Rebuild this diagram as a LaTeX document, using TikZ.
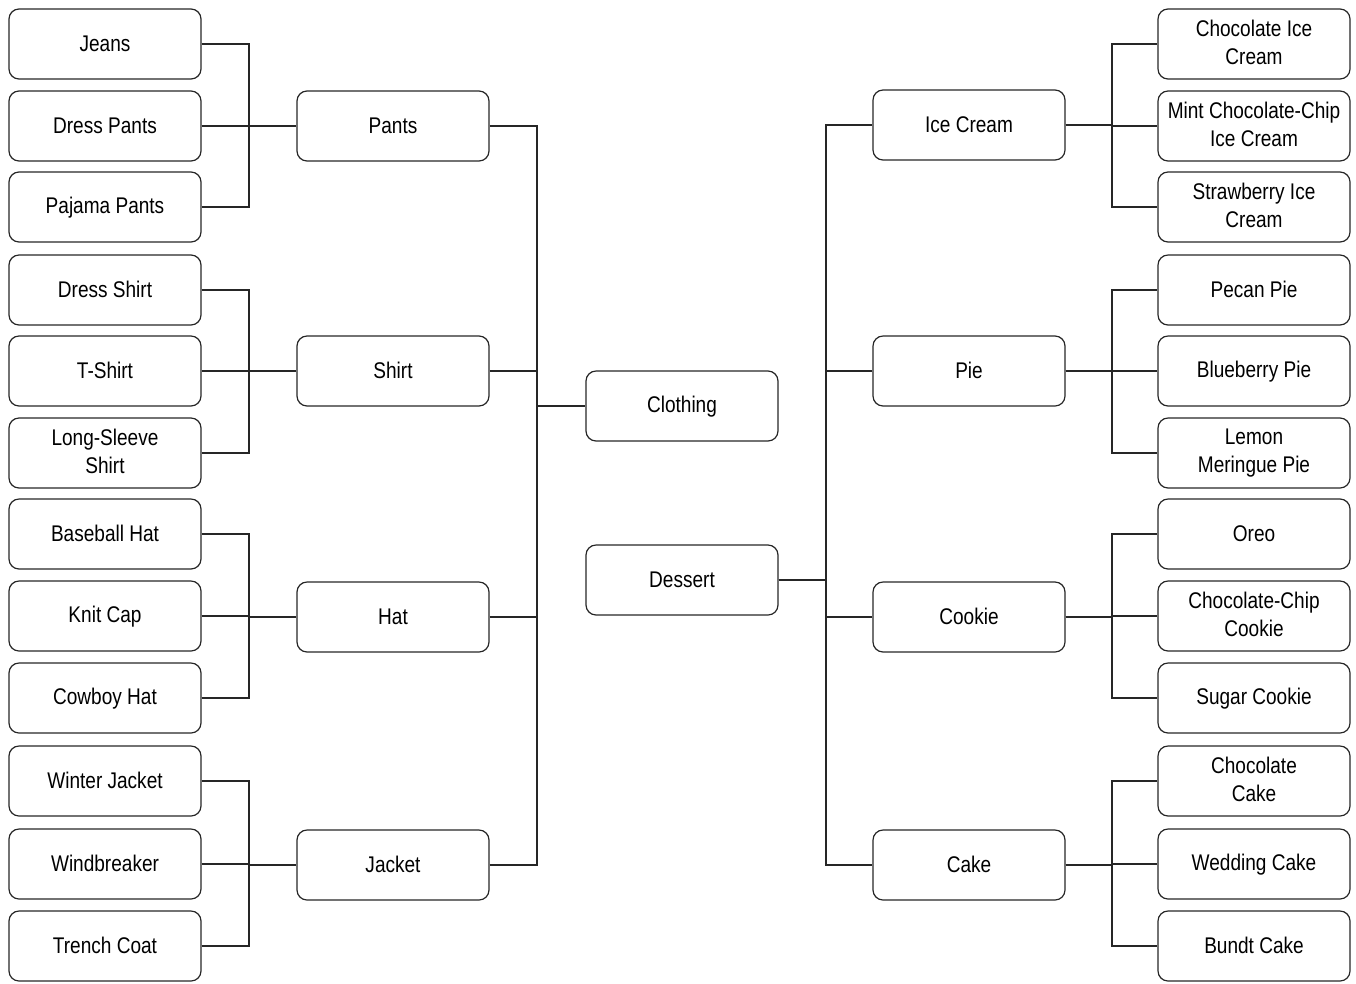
\documentclass[tikz,border=0pt]{standalone}
\usepackage{fontspec}
\setmainfont{Liberation Sans}[FakeStretch=0.84]
\newcommand\bxstrut{\rule[-2.4pt]{0pt}{15.5pt}}
\begin{document}
\begin{tikzpicture}[x=0.75pt,y=-0.75pt,
  box/.style={draw=black!85,line width=0.9pt,rounded corners=7.5pt,minimum width=144pt,minimum height=52.5pt,inner sep=0pt,align=center,font=\fontsize{17}{21.5}\selectfont,text=black,
    execute at begin node=\bxstrut, execute at end node=\bxstrut},
  wire/.style={draw=black!85,line width=0.9pt}]
\useasboundingbox (0,0) rectangle (1356,983);
% left leaves
\node[box] (jeans) at (105,44) {Jeans};
\node[box] (dpants) at (105,126) {Dress Pants};
\node[box] (ppants) at (105,207) {Pajama Pants};
\node[box] (dshirt) at (105,290) {Dress Shirt};
\node[box] (tshirt) at (105,371) {T-Shirt};
\node[box] (lshirt) at (105,453) {Long-Sleeve\\Shirt};
\node[box] (bhat) at (105,534) {Baseball Hat};
\node[box] (kcap) at (105,616) {Knit Cap};
\node[box] (chat) at (105,698) {Cowboy Hat};
\node[box] (wjacket) at (105,781) {Winter Jacket};
\node[box] (wbreaker) at (105,864) {Windbreaker};
\node[box] (tcoat) at (105,946) {Trench Coat};
% left middle
\node[box] (pants) at (393,126) {Pants};
\node[box] (shirt) at (393,371) {Shirt};
\node[box] (hat) at (393,617) {Hat};
\node[box] (jacket) at (393,865) {Jacket};
% center
\node[box] (clothing) at (682,406) {Clothing};
\node[box] (dessert) at (682,580) {Dessert};
% right middle
\node[box] (icecream) at (969,125) {Ice Cream};
\node[box] (pie) at (969,371) {Pie};
\node[box] (cookie) at (969,617) {Cookie};
\node[box] (cake) at (969,865) {Cake};
% right leaves
\node[box] (cic) at (1254,44) {Chocolate Ice\\Cream};
\node[box] (mcc) at (1254,126) {Mint Chocolate-Chip\\Ice Cream};
\node[box] (sic) at (1254,207) {Strawberry Ice\\Cream};
\node[box] (pecan) at (1254,290) {Pecan Pie};
\node[box] (blue) at (1254,371) {Blueberry Pie};
\node[box] (lemon) at (1254,453) {Lemon\\Meringue Pie};
\node[box] (oreo) at (1254,534) {Oreo};
\node[box] (ccc) at (1254,616) {Chocolate-Chip\\Cookie};
\node[box] (sugar) at (1254,698) {Sugar Cookie};
\node[box] (ccake) at (1254,781) {Chocolate\\Cake};
\node[box] (wcake) at (1254,864) {Wedding Cake};
\node[box] (bcake) at (1254,946) {Bundt Cake};
% bus coordinates
\coordinate (bl) at (249,0);
\coordinate (bc) at (537,0);
\coordinate (bd) at (826,0);
\coordinate (br) at (1112,0);
% left leaf connectors
\foreach \lf/\pa in {jeans/pants,dpants/pants,ppants/pants,dshirt/shirt,tshirt/shirt,lshirt/shirt,bhat/hat,kcap/hat,chat/hat,wjacket/jacket,wbreaker/jacket,tcoat/jacket}
  \draw[wire] (\lf.east) -- (\lf.east -| bl) |- (\pa.west);
% to clothing
\foreach \pa in {pants,shirt,hat,jacket}
  \draw[wire] (\pa.east) -- (\pa.east -| bc) |- (clothing.west);
% from dessert
\foreach \pa in {icecream,pie,cookie,cake}
  \draw[wire] (dessert.east) -- (dessert.east -| bd) |- (\pa.west);
% right leaf connectors
\foreach \lf/\pa in {cic/icecream,mcc/icecream,sic/icecream,pecan/pie,blue/pie,lemon/pie,oreo/cookie,ccc/cookie,sugar/cookie,ccake/cake,wcake/cake,bcake/cake}
  \draw[wire] (\pa.east) -- (\pa.east -| br) |- (\lf.west);
\end{tikzpicture}
\end{document}
